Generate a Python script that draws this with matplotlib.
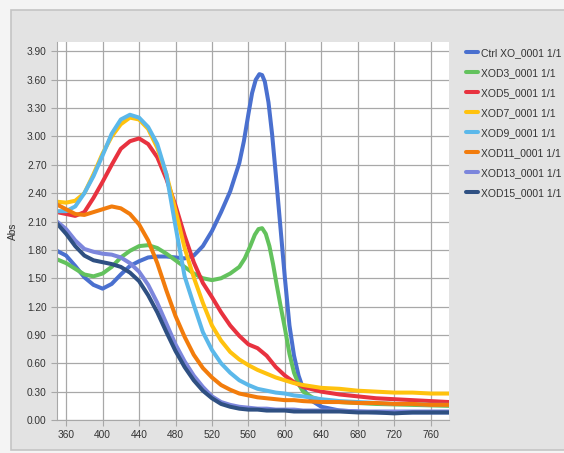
import matplotlib
matplotlib.use("Agg")
import matplotlib.pyplot as plt
from matplotlib.patches import Rectangle

plt.rcParams['font.family'] = ['Liberation Sans', 'DejaVu Sans']

wl_ctrl = [350, 360, 370, 380, 390, 400, 410, 420, 430, 440, 450, 460, 470, 480, 490, 500, 510, 520, 530, 540, 550,
           555, 560, 564, 568, 572, 575, 578, 582, 586, 590, 595, 600, 605, 610, 615, 620,
           630, 640, 660, 680, 700, 720, 740, 760, 780]
abs_ctrl = [1.79, 1.74, 1.63, 1.51, 1.43, 1.39, 1.44, 1.54, 1.63, 1.68, 1.72, 1.73, 1.73, 1.72, 1.71, 1.74, 1.84, 2.00, 2.20, 2.42, 2.72,
            2.95, 3.24, 3.46, 3.60, 3.66, 3.65, 3.58, 3.36, 3.02, 2.60, 2.05, 1.50, 1.00, 0.68, 0.47, 0.33,
            0.20, 0.14, 0.10, 0.09, 0.08, 0.08, 0.08, 0.08, 0.08]

wl_xod3 = [350, 360, 370, 380, 390, 400, 410, 420, 430, 440, 450, 460, 470, 480, 490, 500, 510, 520, 530, 540, 550,
           556, 562, 567, 571, 575, 579, 583, 587, 591, 595, 600, 605, 610, 615, 620, 630, 640, 660, 680, 700, 740, 780]
abs_xod3 = [1.70, 1.66, 1.60, 1.54, 1.52, 1.55, 1.62, 1.72, 1.79, 1.84, 1.85, 1.82, 1.76, 1.69, 1.62, 1.55, 1.50, 1.48, 1.50, 1.55, 1.62,
            1.71, 1.84, 1.96, 2.02, 2.03, 1.97, 1.84, 1.65, 1.43, 1.22, 0.97, 0.70, 0.50, 0.38, 0.30, 0.24, 0.21, 0.19, 0.18, 0.17, 0.16, 0.15]

# resto de muestras: 350-620 cada 10 nm y 640-780 cada 20 nm
wl = list(range(350, 630, 10)) + list(range(640, 800, 20))

abs_xod5 = [2.20, 2.18, 2.16, 2.20, 2.35, 2.52, 2.70, 2.87, 2.95, 2.98, 2.92, 2.78, 2.55, 2.27, 1.95, 1.67, 1.45, 1.30,
            1.14, 1.00, 0.89, 0.80, 0.76, 0.68, 0.56, 0.47, 0.40, 0.35,
            0.30, 0.27, 0.25, 0.23, 0.22, 0.21, 0.20, 0.19]
abs_xod7 = [2.31, 2.30, 2.32, 2.40, 2.60, 2.82, 3.00, 3.13, 3.20, 3.18, 3.08, 2.88, 2.60, 2.22, 1.82, 1.51, 1.24, 1.00,
            0.84, 0.72, 0.64, 0.58, 0.53, 0.49, 0.45, 0.42, 0.39, 0.37,
            0.34, 0.33, 0.31, 0.30, 0.29, 0.29, 0.28, 0.28]
abs_xod9 = [2.21, 2.21, 2.26, 2.40, 2.58, 2.80, 3.03, 3.18, 3.23, 3.20, 3.10, 2.92, 2.60, 2.05, 1.52, 1.22, 0.93, 0.74,
            0.60, 0.50, 0.42, 0.37, 0.33, 0.31, 0.29, 0.28, 0.26, 0.25,
            0.22, 0.20, 0.19, 0.18, 0.17, 0.17, 0.16, 0.16]
abs_xod11 = [2.28, 2.23, 2.18, 2.17, 2.20, 2.23, 2.26, 2.24, 2.18, 2.07, 1.90, 1.66, 1.37, 1.10, 0.88, 0.69, 0.55, 0.45,
             0.37, 0.32, 0.28, 0.26, 0.24, 0.23, 0.22, 0.21, 0.21, 0.20,
             0.19, 0.19, 0.18, 0.18, 0.17, 0.17, 0.16, 0.16]
abs_xod13 = [2.10, 2.02, 1.90, 1.81, 1.78, 1.76, 1.75, 1.72, 1.66, 1.57, 1.43, 1.24, 1.02, 0.80, 0.62, 0.47, 0.35, 0.25,
             0.19, 0.16, 0.14, 0.13, 0.12, 0.12, 0.11, 0.11, 0.11, 0.10,
             0.10, 0.10, 0.09, 0.09, 0.09, 0.09, 0.09, 0.09]
abs_xod15 = [2.08, 1.97, 1.84, 1.74, 1.69, 1.67, 1.65, 1.62, 1.56, 1.47, 1.32, 1.14, 0.93, 0.73, 0.56, 0.42, 0.31, 0.23,
             0.17, 0.14, 0.12, 0.11, 0.11, 0.10, 0.10, 0.10, 0.09, 0.09,
             0.09, 0.09, 0.08, 0.08, 0.07, 0.08, 0.08, 0.08]

etiquetas = ["Ctrl XO_0001 1/1", "XOD3_0001 1/1", "XOD5_0001 1/1", "XOD7_0001 1/1",
             "XOD9_0001 1/1", "XOD11_0001 1/1", "XOD13_0001 1/1", "XOD15_0001 1/1"]
colores = ['#4a70cf', '#63c25d', '#e8323f', '#ffc20e', '#5bb8ea', '#f27c0c', '#7c86dc', '#2f5082']
series = [(wl_ctrl, abs_ctrl), (wl_xod3, abs_xod3), (wl, abs_xod5), (wl, abs_xod7),
          (wl, abs_xod9), (wl, abs_xod11), (wl, abs_xod13), (wl, abs_xod15)]

xticks = list(range(360, 800, 40))
yticks = [i * 0.3 for i in range(14)]

fig = plt.figure(figsize=(5.64, 4.53), dpi=100)
fig.patch.set_facecolor('#f4f4f4')
# Panel gris de fondo
fig.patches.append(Rectangle((11 / 564, 3 / 453), 560 / 564, 440 / 453, transform=fig.transFigure,
                             facecolor='#e3e3e3', edgecolor='#c4c4c4', lw=1.2, zorder=-1))

ax = fig.add_axes([57 / 564, 33 / 453, 392 / 564, 378 / 453])
ax.set_facecolor('white')

lineas = []
for (x, y), c, lab in zip(series, colores, etiquetas):
    ln, = ax.plot(x, y, color=c, lw=2.9, label=lab, solid_joinstyle='round', solid_capstyle='round')
    lineas.append(ln)

ax.set_xlim(350, 780)
ax.set_ylim(0, 4.0)
ax.set_xticks(xticks)
ax.set_yticks(yticks)
ax.set_yticklabels([f"{v:.2f}" for v in yticks])
ax.grid(True, color='#a8a8a8', lw=0.9)
ax.set_axisbelow(True)
for s in ['top', 'right']:
    ax.spines[s].set_visible(False)
for s in ['left', 'bottom']:
    ax.spines[s].set_color('#a8a8a8')
ax.tick_params(axis='both', colors='#a8a8a8', length=4, labelsize=7.3, labelcolor='#333333')
ax.set_ylabel("Abs", fontsize=7.3, color='#333333', labelpad=6)

fig.legend(handles=lineas, loc='upper left', bbox_to_anchor=(466 / 564, 1 - 48 / 453), frameon=False,
           fontsize=7.5, handlelength=1.15, handletextpad=0.25, labelspacing=0.96,
           borderpad=0, borderaxespad=0, labelcolor='#333333')

fig.savefig("out.png", dpi=100, facecolor=fig.get_facecolor())
